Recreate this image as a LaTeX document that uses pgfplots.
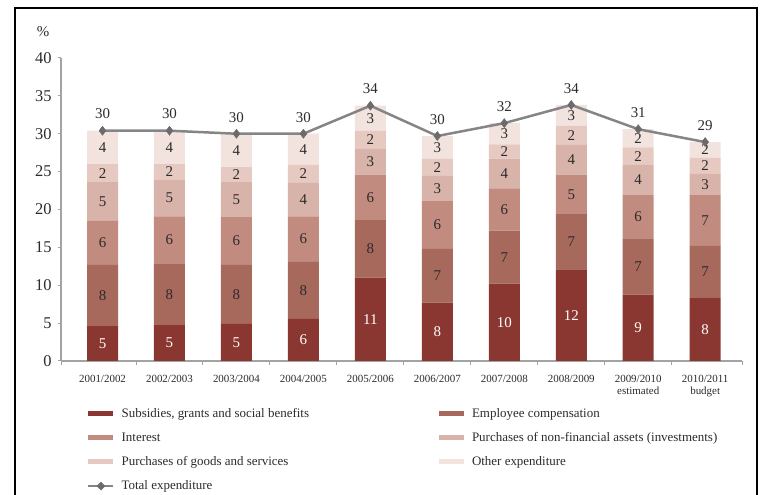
\documentclass[border=0pt]{standalone}
\usepackage{fontspec}
\setmainfont{Liberation Serif}
\usepackage{pgfplots}
\usepackage{pgfplotstable}
\pgfplotsset{compat=1.18}

\definecolor{csub}{HTML}{8B3731}
\definecolor{cemp}{HTML}{A8695D}
\definecolor{cint}{HTML}{C28B7F}
\definecolor{cinv}{HTML}{D8B3A9}
\definecolor{cgoods}{HTML}{E6CAC2}
\definecolor{cother}{HTML}{F2E3DF}
\definecolor{linegray}{HTML}{858585}
\definecolor{markgray}{HTML}{6B6B6B}
\definecolor{axgray}{HTML}{A3A3A3}
\definecolor{labc}{HTML}{2B2B2B}

\pgfplotstableread{
x sub emp int inv goods other total totL
0 4.6 8.1 5.8 5.1 2.4 4.4 30.4 30
1 4.75 8.15 6.2 4.8 2.1 4.4 30.4 30
2 4.9 7.8 6.3 4.6 2.0 4.4 30.0 30
3 5.55 7.55 6.0 4.4 2.4 4.1 30.0 30
4 11.0 7.6 6.0 3.4 2.4 3.3 33.7 34
5 7.7 7.1 6.3 3.4 2.2 3.0 29.7 30
6 10.2 7.0 5.6 3.9 1.9 2.8 31.4 32
7 12.1 7.3 5.2 4.0 2.45 2.75 33.8 34
8 8.75 7.35 5.8 4.0 2.3 2.4 30.6 31
9 8.3 6.9 6.7 2.8 2.1 2.1 28.9 29
}\data

\pgfplotsset{
  barleg/.style={legend image code/.code={\fill (0bp,-2.5bp) rectangle (25bp,2.5bp); \path (31bp,0bp);}},
}

\begin{document}
\begin{tikzpicture}[x=1bp,y=1bp]
\useasboundingbox (0,0) rectangle (763,495);
\draw[line width=2bp, black] (15,-20) -- (15,487) -- (757,487) -- (757,-20);
\node[font=\fontsize{15}{15}\selectfont, text=labc] at (43,463) {\%};

\begin{axis}[
  at={(61bp,134bp)}, anchor=south west,
  scale only axis, width=681bp, height=303bp,
  xmin=-0.62, xmax=9.55, ymin=0, ymax=40,
  ybar stacked, bar width=31bp,
  axis lines=left,
  axis line style={draw=axgray, line width=2bp, -},
  tick align=outside,
  ytick={0,5,...,40},
  major tick length=3bp, minor tick length=4bp,
  tick style={draw=axgray, line width=1bp},
  xtick={0,...,9},
  every major x tick/.append style={draw=none},
  minor xtick={-0.62,0.5,1.5,2.5,3.5,4.5,5.5,6.5,7.5,8.5,9.55},
  xticklabels={2001/2002,2002/2003,2003/2004,2004/2005,2005/2006,2006/2007,2007/2008,2008/2009,{2009/2010\\estimated},{2010/2011\\budget}},
  xticklabel style={font=\fontsize{11}{11.5}\selectfont, align=center, text=labc, anchor=north, yshift=-8bp},
  yticklabel style={font=\fontsize{16.5}{16.5}\selectfont, text=labc, xshift=-3bp},
  /pgf/number format/assume math mode=true,
  nodes near coords={\pgfmathprintnumber[fixed,precision=0]{\pgfplotspointmeta}},
  every node near coord/.append style={anchor=center, font=\fontsize{15}{15}\selectfont, text=labc},
  legend columns=2,
  legend cell align=left,
  legend style={draw=none, fill=none, at={(0.0338,-0.142)}, anchor=north west,
    font=\fontsize{13}{14}\selectfont, text=labc, row sep=9.6bp,
    /tikz/column 2/.style={column sep=128bp}},
]
\addplot[draw=none, fill=csub, barleg, every node near coord/.append style={text=white}] table[x=x,y=sub]{\data};
\addplot[draw=none, fill=cemp, barleg] table[x=x,y=emp]{\data};
\addplot[draw=none, fill=cint, barleg] table[x=x,y=int]{\data};
\addplot[draw=none, fill=cinv, barleg] table[x=x,y=inv]{\data};
\addplot[draw=none, fill=cgoods, barleg] table[x=x,y=goods]{\data};
\addplot[draw=none, fill=cother, barleg] table[x=x,y=other]{\data};
\legend{{Subsidies, grants and social benefits},Employee compensation,Interest,Purchases of non-financial assets (investments),Purchases of goods and services,Other expenditure}
\addlegendimage{legend image code/.code={
  \draw[linegray, line width=2.5bp] (0bp,0bp) -- (25bp,0bp);
  \fill[markgray] (12.5bp,4bp) -- (16.5bp,0bp) -- (12.5bp,-4bp) -- (8.5bp,0bp) -- cycle;
  \path (31bp,0bp);}}
\addlegendentry{Total expenditure}
\end{axis}

\begin{axis}[
  at={(61bp,134bp)}, anchor=south west,
  scale only axis, width=681bp, height=303bp,
  xmin=-0.62, xmax=9.55, ymin=0, ymax=40,
  axis lines=none,
]
\addplot[color=linegray, line width=2.5bp, mark=diamond*, mark size=4.5bp,
  mark options={fill=markgray, draw=markgray, line width=0.5bp},
  nodes near coords, point meta=explicit symbolic,
  nodes near coords style={anchor=south, yshift=8bp, font=\fontsize{15}{15}\selectfont, text=labc}]
  table[x=x,y=total,meta=totL]{\data};
\end{axis}
\end{tikzpicture}
\end{document}
